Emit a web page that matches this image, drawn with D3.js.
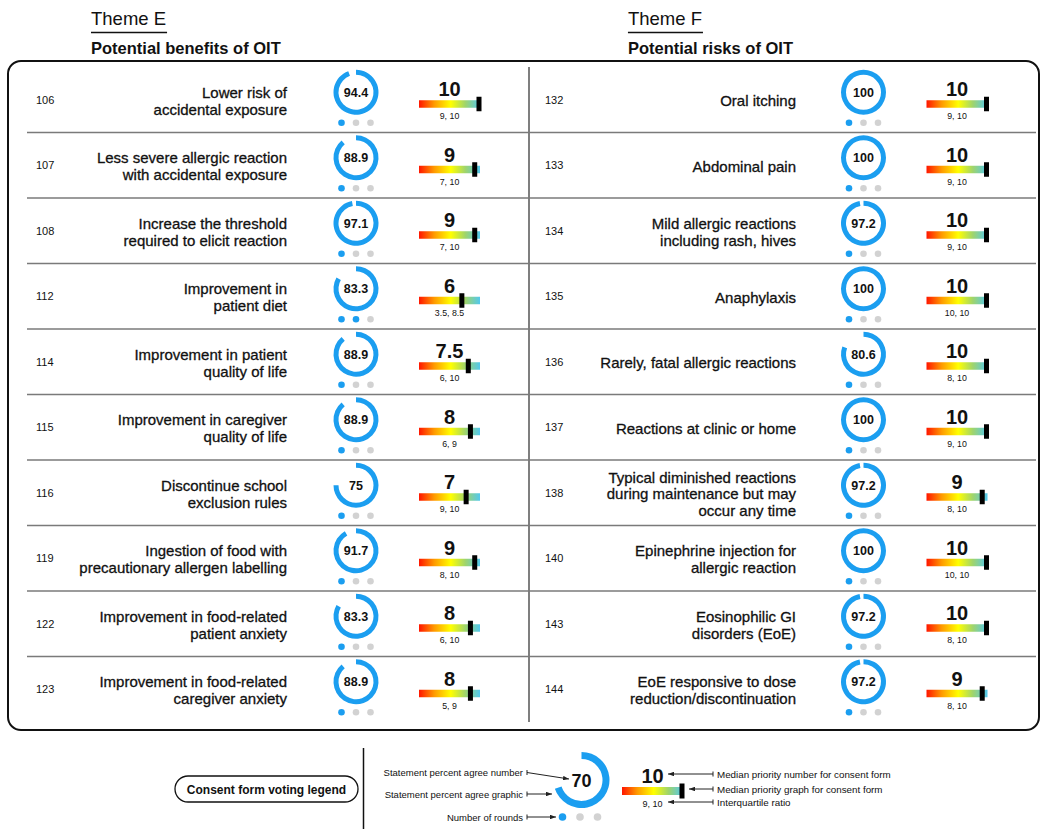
<!DOCTYPE html>
<html><head><meta charset="utf-8">
<script src="https://cdn.jsdelivr.net/npm/d3@7"></script>
<style>body{margin:0;background:#fff} svg{display:block}</style>
</head><body>
<svg id="chart" width="1050" height="831"></svg>
<script>
// ---------------- DATA ----------------
const themeTitles = ["Theme E", "Theme F"];
const themeSubtitles = ["Potential benefits of OIT", "Potential risks of OIT"];

const idsE = [106, 107, 108, 112, 114, 115, 116, 119, 122, 123];
const labelsE = [
  ["Lower risk of", "accidental exposure"],
  ["Less severe allergic reaction", "with accidental exposure"],
  ["Increase the threshold", "required to elicit reaction"],
  ["Improvement in", "patient diet"],
  ["Improvement in patient", "quality of life"],
  ["Improvement in caregiver", "quality of life"],
  ["Discontinue school", "exclusion rules"],
  ["Ingestion of food with", "precautionary allergen labelling"],
  ["Improvement in food-related", "patient anxiety"],
  ["Improvement in food-related", "caregiver anxiety"]
];
const pctE = [94.4, 88.9, 97.1, 83.3, 88.9, 88.9, 75, 91.7, 83.3, 88.9];
const roundsE = [1, 1, 1, 2, 1, 1, 1, 1, 1, 1];
const medianE = [10, 9, 9, 6, 7.5, 8, 7, 9, 8, 8];
const iqrE = ["9, 10", "7, 10", "7, 10", "3.5, 8.5", "6, 10", "6, 9", "9, 10", "8, 10", "6, 10", "5, 9"];

const idsF = [132, 133, 134, 135, 136, 137, 138, 140, 143, 144];
const labelsF = [
  ["Oral itching"],
  ["Abdominal pain"],
  ["Mild allergic reactions", "including rash, hives"],
  ["Anaphylaxis"],
  ["Rarely, fatal allergic reactions"],
  ["Reactions at clinic or home"],
  ["Typical diminished reactions", "during maintenance but may", "occur any time"],
  ["Epinephrine injection for", "allergic reaction"],
  ["Eosinophilic GI", "disorders (EoE)"],
  ["EoE responsive to dose", "reduction/discontinuation"]
];
const pctF = [100, 100, 97.2, 100, 80.6, 100, 97.2, 100, 97.2, 97.2];
const roundsF = [1, 1, 1, 1, 1, 1, 1, 1, 1, 1];
const medianF = [10, 10, 10, 10, 10, 10, 9, 10, 10, 9];
const iqrF = ["9, 10", "9, 10", "9, 10", "10, 10", "8, 10", "9, 10", "8, 10", "10, 10", "8, 10", "8, 10"];

const legendTitle = "Consent form voting legend";
const legendPct = 70;
const legendRounds = 1;
const legendMedian = 10;
const legendIQR = "9, 10";
const legendLeftNotes = ["Statement percent agree number", "Statement percent agree graphic", "Number of rounds"];
const legendRightNotes = ["Median priority number for consent form", "Median priority graph for consent form", "Interquartile ratio"];

// ---------------- DRAWING ----------------
const FONT = "'Liberation Sans', Arial, Helvetica, sans-serif";
const BLUE = "#1b9ef0";
const GREY_DOT = "#d2d2d2";
const svg = d3.select("#chart").style("font-family", FONT);

const defs = svg.append("defs");
const grad = defs.append("linearGradient").attr("id", "prio").attr("x1", "0%").attr("x2", "100%");
[[0, "#ff1500"], [0.25, "#ff9a00"], [0.52, "#ffff00"], [0.76, "#9fd46c"], [1, "#52c8ee"]]
  .forEach(([o, c]) => grad.append("stop").attr("offset", o).attr("stop-color", c));
defs.append("marker").attr("id", "arrow").attr("viewBox", "0 0 8 6")
  .attr("refX", 8).attr("refY", 3).attr("markerWidth", 6).attr("markerHeight", 4.5)
  .attr("orient", "auto").attr("markerUnits", "userSpaceOnUse")
  .append("path").attr("d", "M0,0L8,3L0,6Z").attr("fill", "#222");

// scales
const yRow = d3.scaleLinear().domain([0, 10]).range([67, 722]);
const rowH = yRow(1) - yRow(0);
const angle = d3.scaleLinear().domain([0, 100]).range([0, 2 * Math.PI]);
const barW = 61;
const medX = d3.scaleLinear().domain([-4, 10]).range([0, 60]);

// panel
svg.append("rect").attr("x", 8).attr("y", 61).attr("width", 1031).attr("height", 669)
  .attr("rx", 13).attr("fill", "none").attr("stroke", "#111").attr("stroke-width", 2);
svg.append("line").attr("x1", 529).attr("x2", 529).attr("y1", yRow(0)).attr("y2", yRow(10))
  .attr("stroke", "#555").attr("stroke-width", 1.5);

function donut(g, cx, cy, pct, rIn, rOut, fs) {
  const arc = d3.arc().innerRadius(rIn).outerRadius(rOut).startAngle(0).endAngle(angle(pct));
  g.append("path").attr("d", arc()).attr("transform", `translate(${cx},${cy})`).attr("fill", BLUE);
  g.append("text").attr("x", cx).attr("y", cy + 0.5).attr("text-anchor", "middle")
    .attr("dominant-baseline", "central").attr("font-weight", "bold").attr("font-size", fs)
    .attr("fill", "#111").text(pct);
}
function dots(g, cx, cy, rounds, r, step) {
  d3.range(3).forEach(i => {
    g.append("circle").attr("cx", cx + (i - 1) * step).attr("cy", cy).attr("r", r)
      .attr("fill", i < rounds ? BLUE : GREY_DOT);
  });
}
function prioBar(g, x0, y0, med, iqr, h, numFs, iqrFs) {
  const cx = x0 + barW / 2;
  g.append("text").attr("x", cx).attr("y", y0 - 4).attr("text-anchor", "middle")
    .attr("font-weight", "bold").attr("font-size", numFs).attr("fill", "#111").text(med);
  g.append("rect").attr("x", x0).attr("y", y0).attr("width", barW).attr("height", h).attr("fill", "url(#prio)");
  g.append("rect").attr("x", x0 + medX(med) - 2.5).attr("y", y0 - 3.5).attr("width", 5).attr("height", h + 7)
    .attr("fill", "#000");
  g.append("text").attr("x", cx).attr("y", y0 + h + 8.5).attr("text-anchor", "middle")
    .attr("dominant-baseline", "central").attr("font-size", iqrFs).attr("fill", "#111").text(iqr);
}

const columns = [
  {ox: 0, ids: idsE, labels: labelsE, pct: pctE, rounds: roundsE, med: medianE, iqr: iqrE, sepX: [27, 529]},
  {ox: 507.5, ids: idsF, labels: labelsF, pct: pctF, rounds: roundsF, med: medianF, iqr: iqrF, sepX: [529, 1036]}
];

columns.forEach((col, ci) => {
  const g = svg.append("g");
  // headers
  const hx = 91 + col.ox * 1.058;
  const tt = g.append("text").attr("x", hx).attr("y", 25).attr("font-size", 18.5)
    .attr("fill", "#111").text(themeTitles[ci]);
  const tw = tt.node().getComputedTextLength();
  g.append("line").attr("x1", hx).attr("x2", hx + tw + 1)
    .attr("y1", 32.5).attr("y2", 32.5).attr("stroke", "#111").attr("stroke-width", 1.5);
  g.append("text").attr("x", hx).attr("y", 54).attr("font-size", 16.5)
    .attr("font-weight", "bold").attr("fill", "#111").text(themeSubtitles[ci]);

  // separators
  d3.range(1, 10).forEach(i => {
    g.append("line").attr("x1", col.sepX[0]).attr("x2", col.sepX[1]).attr("y1", yRow(i)).attr("y2", yRow(i))
      .attr("stroke", "#7a7a7a").attr("stroke-width", 1.5);
  });

  col.ids.forEach((id, i) => {
    const rc = yRow(i) + rowH / 2;
    g.append("text").attr("x", 36 + col.ox + 1.5 * ci).attr("y", rc).attr("dominant-baseline", "central")
      .attr("font-size", 11).attr("fill", "#111").text(id);
    const lines = col.labels[i];
    const lh = 16.7;
    const t = g.append("text").attr("text-anchor", "end").attr("font-size", 15).attr("fill", "#111")
      .attr("stroke", "#111").attr("stroke-width", 0.3);
    lines.forEach((ln, k) => {
      t.append("tspan").attr("x", 287 + col.ox + 1.5 * ci)
        .attr("y", rc + 1 + (k - (lines.length - 1) / 2) * lh)
        .attr("dominant-baseline", "central").text(ln);
    });
    donut(g, 356 + col.ox, rc - 7.5, col.pct[i], 17.5, 22.5, 12.5);
    dots(g, 356 + col.ox, rc + 23, col.rounds[i], 3.3, 14.5);
    prioBar(g, 419 + col.ox, rc + 0.5, col.med[i], col.iqr[i], 7.5, 20, 8.8);
  });
});

// ---------------- LEGEND ----------------
const lg = svg.append("g");
lg.append("rect").attr("x", 175).attr("y", 776).attr("width", 183).attr("height", 26).attr("rx", 13)
  .attr("fill", "#fff").attr("stroke", "#111").attr("stroke-width", 1.3);
lg.append("text").attr("x", 266.5).attr("y", 789.5).attr("text-anchor", "middle").attr("dominant-baseline", "central")
  .attr("font-weight", "bold").attr("font-size", 12).attr("fill", "#111").text(legendTitle);
lg.append("line").attr("x1", 363.5).attr("x2", 363.5).attr("y1", 748).attr("y2", 829)
  .attr("stroke", "#111").attr("stroke-width", 1.5);

donut(lg, 581.5, 780, legendPct, 21, 28, 18);
dots(lg, 580, 817, legendRounds, 3.8, 17.5);
prioBar(lg, 622, 787, legendMedian, legendIQR, 8, 20, 9);

function pointer(x1, y1, x2, y2) {
  lg.append("line").attr("x1", x1).attr("y1", y1).attr("x2", x2).attr("y2", y2)
    .attr("stroke", "#222").attr("stroke-width", 1).attr("marker-end", "url(#arrow)");
  lg.append("line").attr("x1", x1).attr("x2", x1).attr("y1", y1 - 2.5).attr("y2", y1 + 2.5)
    .attr("stroke", "#222").attr("stroke-width", 1);
}
const leftY = [772.5, 794, 817];
const leftEnd = [[569, 779], [552, 794], [556, 817]];
legendLeftNotes.forEach((s, i) => {
  lg.append("text").attr("x", 523).attr("y", leftY[i]).attr("text-anchor", "end").attr("dominant-baseline", "central")
    .attr("font-size", 9.5).attr("fill", "#111").text(s);
  pointer(527, leftY[i], leftEnd[i][0], leftEnd[i][1]);
});
const rightY = [774, 789, 802];
const rightEnd = [668, 689, 668];
legendRightNotes.forEach((s, i) => {
  lg.append("text").attr("x", 717).attr("y", rightY[i]).attr("dominant-baseline", "central")
    .attr("font-size", 9.8).attr("fill", "#111").text(s);
  pointer(713, rightY[i], rightEnd[i], rightY[i]);
});
</script>
</body></html>
